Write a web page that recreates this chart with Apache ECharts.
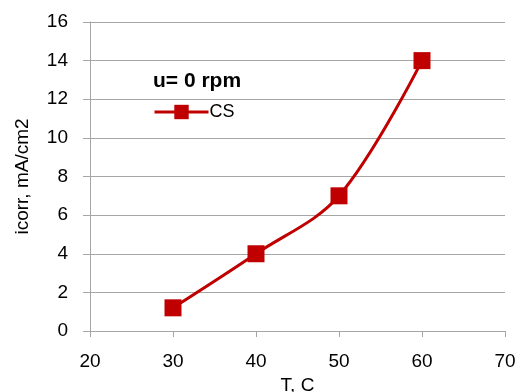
<!DOCTYPE html>
<html>
<head>
<meta charset="utf-8">
<script src="https://cdn.jsdelivr.net/npm/echarts@6/dist/echarts.min.js"></script>
<style>
  html, body { margin: 0; padding: 0; background: #fff; }
  #main { width: 524px; height: 392px; }
</style>
</head>
<body>
<div id="main"></div>
<script>
// data
const temps = [30, 40, 50, 60];
const icorr = [1.2, 4, 7, 14];
const seriesName = "CS";
const chartTitle = "u= 0 rpm";

const FONT = "Liberation Sans";
const RED = "#C00000";
const GRID_GRAY = "#A6A6A6";

const chart = echarts.init(document.getElementById("main"));

chart.setOption({
  animation: false,
  title: {
    text: chartTitle,
    left: 148,
    top: 66,
    textStyle: { fontFamily: FONT, fontSize: 21, fontWeight: "bold", color: "#000" },
  },
  legend: {
    left: 148,
    top: 98,
    itemWidth: 54,
    itemHeight: 18,
    itemGap: 4,
    lineStyle: { width: 3 },
    textStyle: { fontFamily: FONT, fontSize: 18, color: "#000", padding: [0, 0, 0, -4] },
    data: [seriesName],
  },
  grid: { left: 90, right: 19, top: 22, bottom: 61, containLabel: false, outerBoundsMode: "none" },
  xAxis: {
    type: "value",
    min: 20,
    max: 70,
    interval: 10,
    name: "T, C",
    nameLocation: "middle",
    nameGap: 45,
    nameTextStyle: { fontFamily: FONT, fontSize: 19, color: "#000" },
    axisLine: { show: true, lineStyle: { color: GRID_GRAY, width: 1 } },
    axisTick: { show: true, inside: false, length: 6, lineStyle: { color: GRID_GRAY } },
    axisLabel: { fontFamily: FONT, fontSize: 19, color: "#000", margin: 21 },
    splitLine: { show: false },
  },
  yAxis: {
    type: "value",
    min: 0,
    max: 16,
    interval: 2,
    name: "icorr, mA/cm2",
    nameLocation: "middle",
    nameGap: 58,
    nameTextStyle: { fontFamily: FONT, fontSize: 19, color: "#000" },
    axisLine: { show: true, lineStyle: { color: GRID_GRAY, width: 1 } },
    axisTick: { show: true, inside: false, length: 7, lineStyle: { color: GRID_GRAY } },
    axisLabel: { fontFamily: FONT, fontSize: 19, color: "#000", margin: 22 },
    splitLine: { show: true, lineStyle: { color: GRID_GRAY, width: 1 } },
  },
  series: [
    {
      name: seriesName,
      type: "line",
      data: temps.map((t, i) => [t, icorr[i]]),
      smooth: 0.35,
      symbol: "rect",
      symbolSize: 17,
      showAllSymbol: true,
      itemStyle: { color: RED },
      lineStyle: { color: RED, width: 3 },
    },
  ],
});
</script>
</body>
</html>
